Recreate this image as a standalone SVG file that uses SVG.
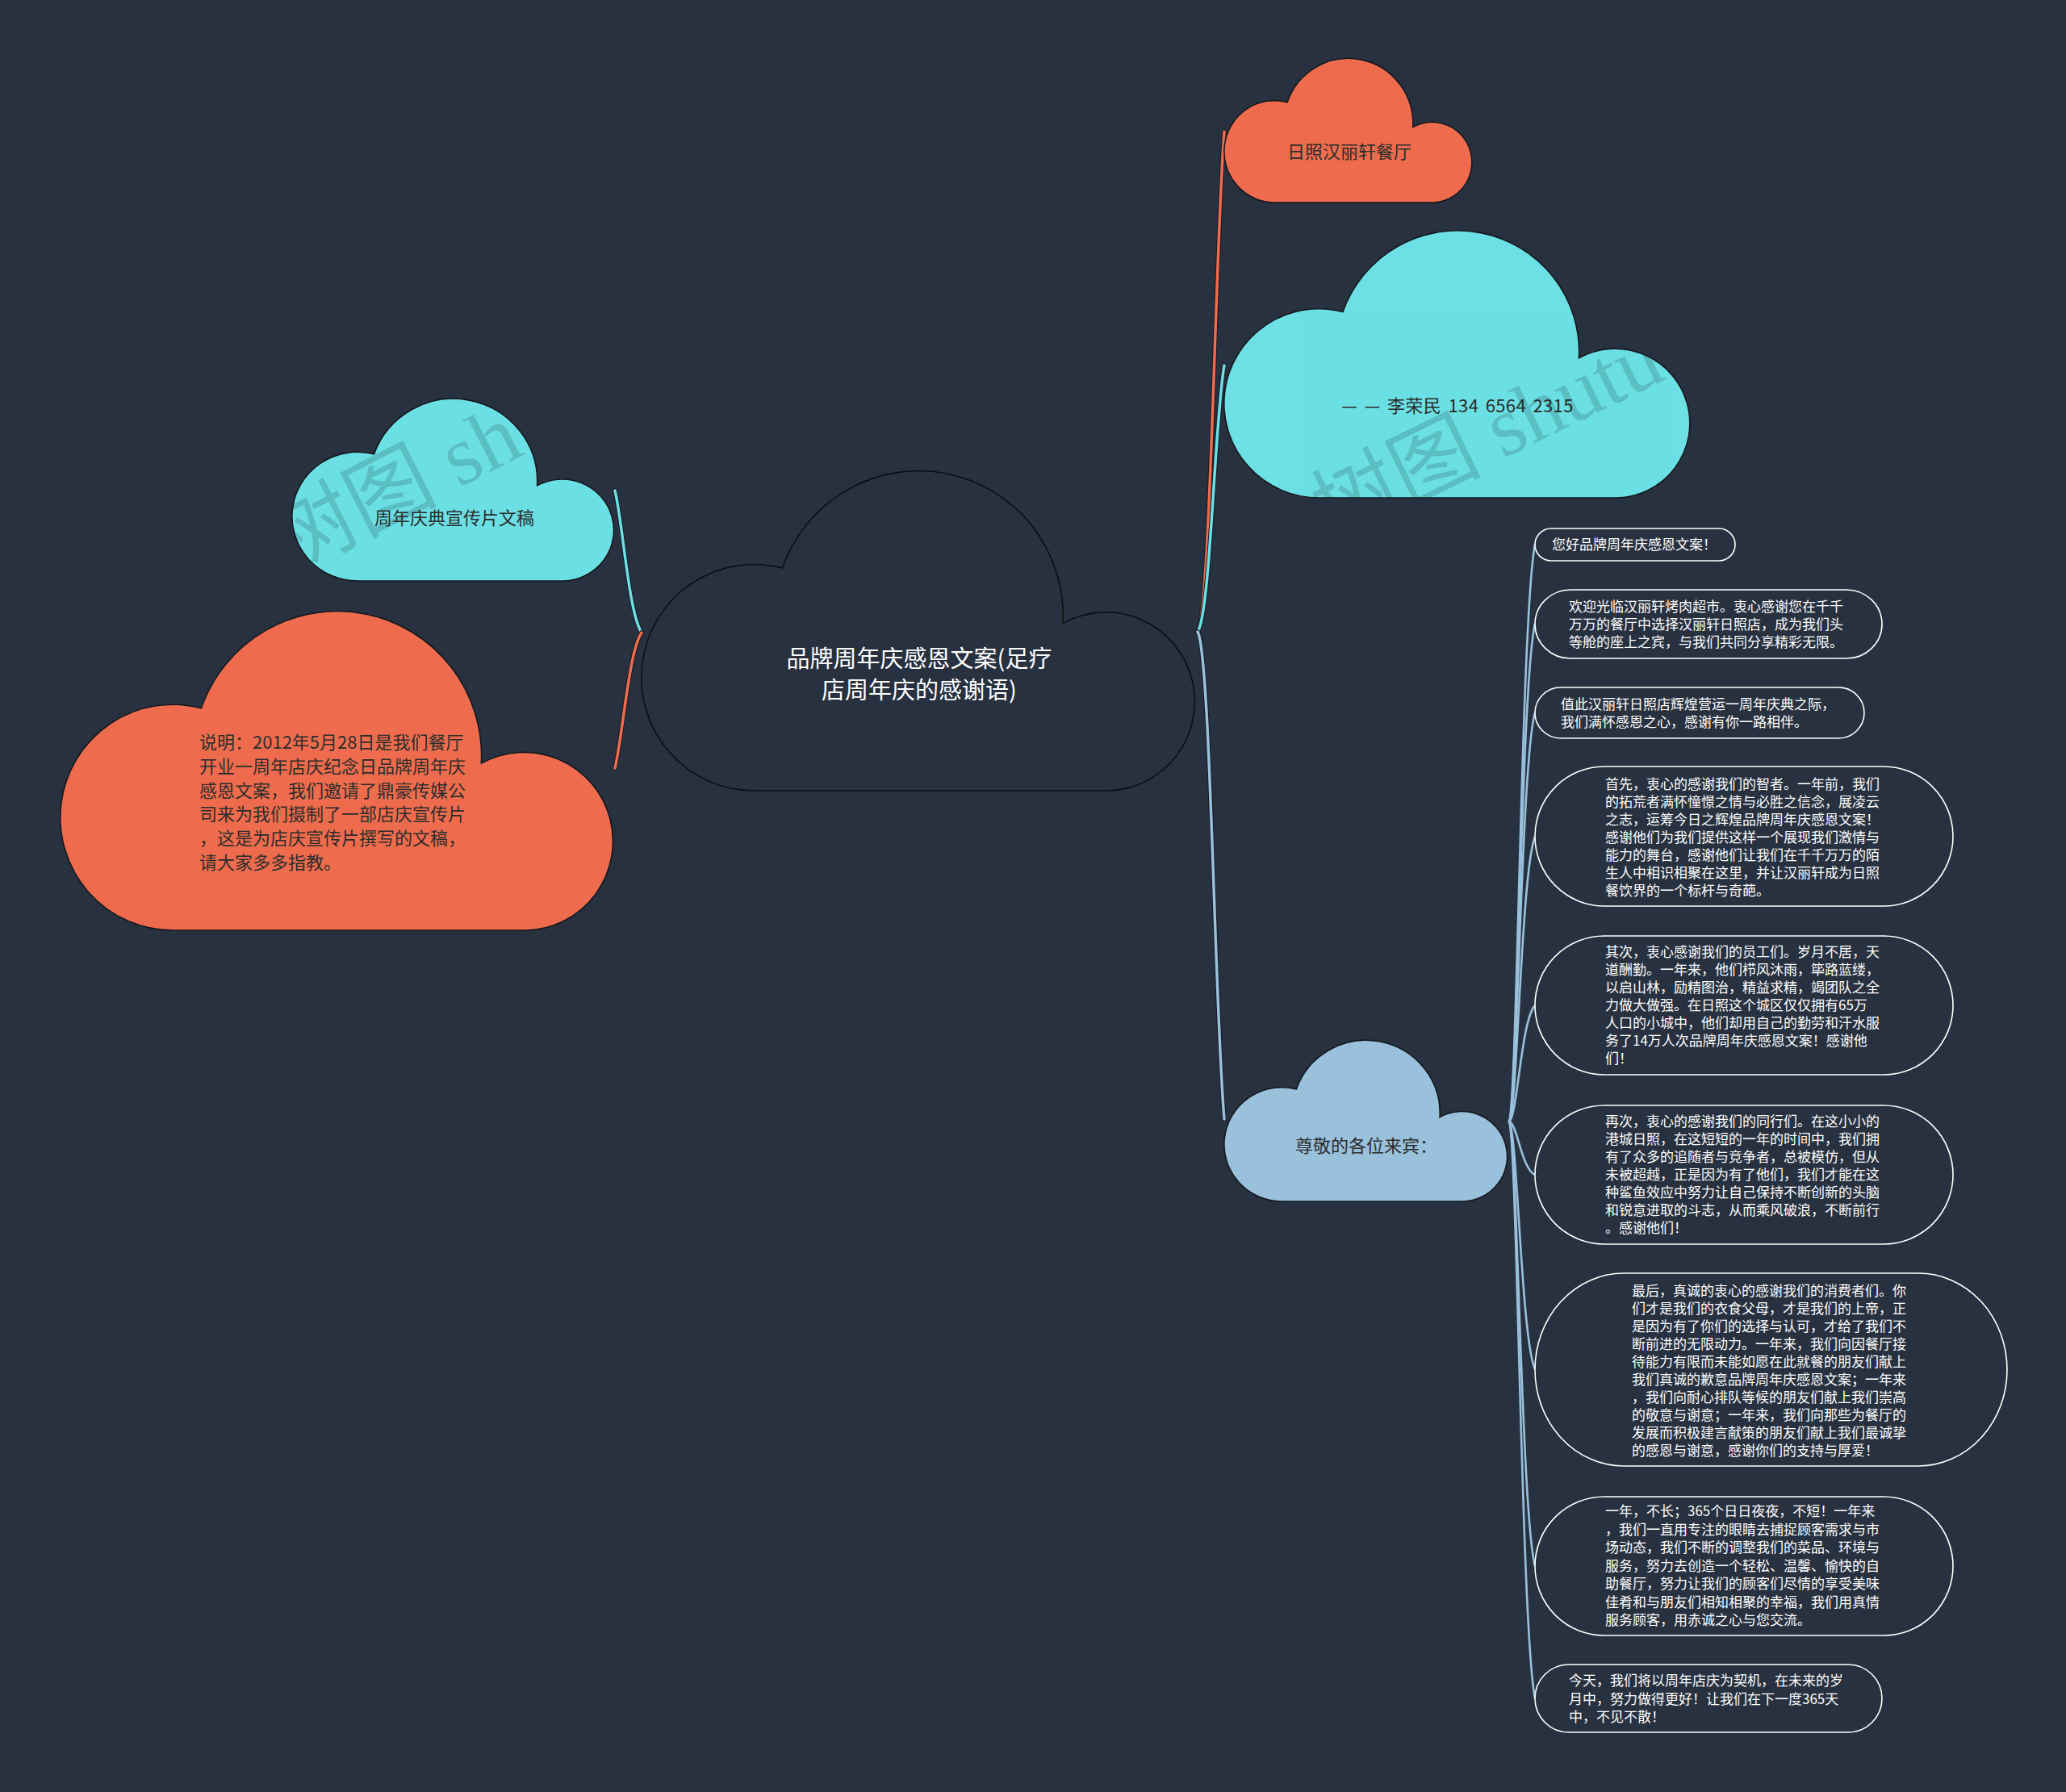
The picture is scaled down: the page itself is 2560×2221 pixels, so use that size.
<svg xmlns="http://www.w3.org/2000/svg" width="2560" height="2221" viewBox="0 0 2560 2221">
<defs>
<style>
.cloud{stroke:#15181e;stroke-width:1.6}
.orange{fill:#ee6c4d}
.cyan{fill:#6ce0e4}
.blue{fill:#99c1dc}
.root{fill:#28313f;stroke:#0c0e12}
.ctext{font-family:"Noto Sans CJK SC","Noto Sans",sans-serif;font-size:22px;fill:#2c2c2c}
.rtext{font-family:"Noto Sans CJK SC","Noto Sans",sans-serif;font-size:29px;fill:#ffffff;text-anchor:middle}
.pill{fill:#28313f;stroke:#ffffff;stroke-width:1.6}
.ptext{font-family:"Noto Sans CJK SC","Noto Sans",sans-serif;font-size:17px;fill:#ffffff}
.under{fill:none;stroke:#161a22;stroke-linecap:round}
.lo{fill:none;stroke:#ee6c4d;stroke-width:3.5;stroke-linecap:round}
.lc{fill:none;stroke:#6ce0e4;stroke-width:3.5;stroke-linecap:round}
.lb{fill:none;stroke:#99c1dc;stroke-width:3.5;stroke-linecap:round}
.ls{fill:none;stroke:#99c1dc;stroke-width:2.6;stroke-linecap:round}
.wm{font-family:"Liberation Serif","Noto Sans CJK SC",serif;font-size:105px;fill:#000000;opacity:0.15}
</style>
<clipPath id="clipA"><path transform="translate(362,495) scale(2.286,2.25)" d="M35.5,100 L147,100 A28,28 0 1 0 132.8,47.5 A45.5,45.5 0 0 0 44.4,30.15 A35.5,35.5 0 1 0 35.5,100 Z"/></clipPath>
<clipPath id="clipB"><path transform="translate(1517,287) scale(3.309,3.3)" d="M35.5,100 L147,100 A28,28 0 1 0 132.8,47.5 A45.5,45.5 0 0 0 44.4,30.15 A35.5,35.5 0 1 0 35.5,100 Z"/></clipPath>
</defs>
<rect x="0" y="0" width="2560" height="2221" fill="#28313f"/>

<g id="connectors">
  <path class="under" stroke-width="5.5" d="M1484,783 C1500,760 1506,300 1517,163"/>
  <path class="lo" d="M1484,783 C1500,760 1506,300 1517,163"/>
  <path class="under" stroke-width="5.5" d="M1484,783 C1500,760 1505,520 1517,453"/>
  <path class="lc" d="M1484,783 C1500,760 1505,520 1517,453"/>
  <path class="under" stroke-width="5.5" d="M1484,783 C1500,810 1505,1250 1517,1387"/>
  <path class="lb" d="M1484,783 C1500,810 1505,1250 1517,1387"/>
  <path class="under" stroke-width="5.5" d="M795,784 C779,760 772,650 762,608"/>
  <path class="lc" d="M795,784 C779,760 772,650 762,608"/>
  <path class="under" stroke-width="5.5" d="M795,784 C779,808 772,910 762,952"/>
  <path class="lo" d="M795,784 C779,808 772,910 762,952"/>
  <g>
    <path class="ls" d="M1870,1390 C1880,1368.6 1885,760.8 1902,675"/>
    <path class="ls" d="M1870,1390 C1880,1371.5 1885,847 1902,773"/>
    <path class="ls" d="M1870,1390 C1880,1374.8 1885,943.8 1902,883"/>
    <path class="ls" d="M1870,1390 C1880,1379.4 1885,1079.4 1902,1037"/>
    <path class="ls" d="M1870,1390 C1880,1385.7 1885,1263.3 1902,1246"/>
    <path class="ls" d="M1870,1390 C1880,1392 1885,1448 1902,1456"/>
    <path class="ls" d="M1870,1390 C1880,1399.2 1885,1660.2 1902,1697"/>
    <path class="ls" d="M1870,1390 C1880,1406.5 1885,1874.9 1902,1941"/>
    <path class="ls" d="M1870,1390 C1880,1411.5 1885,2019.2 1902,2105"/>
  </g>
</g>

<g id="root">
  <path class="cloud root" vector-effect="non-scaling-stroke" transform="translate(795,585) scale(3.931,3.95)" d="M35.5,100 L147,100 A28,28 0 1 0 132.8,47.5 A45.5,45.5 0 0 0 44.4,30.15 A35.5,35.5 0 1 0 35.5,100 Z"/>
  <text class="rtext" x="1139" y="827">品牌周年庆感恩文案(足疗</text>
  <text class="rtext" x="1139" y="866">店周年庆的感谢语)</text>
</g>

<g id="node-rizhao">
  <path class="cloud orange" vector-effect="non-scaling-stroke" transform="translate(1517,73) scale(1.76,1.78)" d="M35.5,100 L147,100 A28,28 0 1 0 132.8,47.5 A45.5,45.5 0 0 0 44.4,30.15 A35.5,35.5 0 1 0 35.5,100 Z"/>
  <text class="ctext" x="1672" y="196" text-anchor="middle">日照汉丽轩餐厅</text>
</g>

<g id="node-lirongmin">
  <path class="cloud cyan" vector-effect="non-scaling-stroke" transform="translate(1517,287) scale(3.309,3.3)" d="M35.5,100 L147,100 A28,28 0 1 0 132.8,47.5 A45.5,45.5 0 0 0 44.4,30.15 A35.5,35.5 0 1 0 35.5,100 Z"/>
  <text class="ctext" x="1806" y="511" text-anchor="middle" letter-spacing="0.4" word-spacing="3">— — 李荣民 134 6564 2315</text>
  <g clip-path="url(#clipB)"><text class="wm" x="1650" y="672" transform="rotate(-26 1650 672)">树图 shutu</text></g>
</g>

<g id="node-zhounian">
  <path class="cloud cyan" vector-effect="non-scaling-stroke" transform="translate(362,495) scale(2.286,2.25)" d="M35.5,100 L147,100 A28,28 0 1 0 132.8,47.5 A45.5,45.5 0 0 0 44.4,30.15 A35.5,35.5 0 1 0 35.5,100 Z"/>
  <g clip-path="url(#clipA)"><text class="wm" x="358" y="712" transform="rotate(-27 358 712)">树图 shutu</text></g>
  <text class="ctext" x="563" y="650" text-anchor="middle">周年庆典宣传片文稿</text>
</g>

<g id="node-shuoming">
  <path class="cloud orange" vector-effect="non-scaling-stroke" transform="translate(75,759) scale(3.926,3.94)" d="M35.5,100 L147,100 A28,28 0 1 0 132.8,47.5 A45.5,45.5 0 0 0 44.4,30.15 A35.5,35.5 0 1 0 35.5,100 Z"/>
  <text class="ctext" x="247" y="928">说明：2012年5月28日是我们餐厅</text>
  <text class="ctext" x="247" y="958">开业一周年店庆纪念日品牌周年庆</text>
  <text class="ctext" x="247" y="988">感恩文案，我们邀请了鼎豪传媒公</text>
  <text class="ctext" x="247" y="1017">司来为我们摄制了一部店庆宣传片</text>
  <text class="ctext" x="247" y="1047">，这是为店庆宣传片撰写的文稿，</text>
  <text class="ctext" x="247" y="1077">请大家多多指教。</text>
</g>

<g id="node-zunjing">
  <path class="cloud blue" vector-effect="non-scaling-stroke" transform="translate(1517,1290) scale(2.011,1.99)" d="M35.5,100 L147,100 A28,28 0 1 0 132.8,47.5 A45.5,45.5 0 0 0 44.4,30.15 A35.5,35.5 0 1 0 35.5,100 Z"/>
  <text class="ctext" x="1605" y="1428">尊敬的各位来宾：</text>
</g>

<g id="leaf-a">
  <rect class="pill" x="1902" y="655" width="248" height="40" rx="20" ry="20"/>
  <text class="ptext" x="1923" y="681">您好品牌周年庆感恩文案！</text>
</g>

<g id="leaf-b">
  <rect class="pill" x="1902" y="731" width="430" height="85" rx="44" ry="42.5"/>
  <text class="ptext" x="1944" y="758">欢迎光临汉丽轩烤肉超市。衷心感谢您在千千</text>
  <text class="ptext" x="1944" y="780">万万的餐厅中选择汉丽轩日照店，成为我们头</text>
  <text class="ptext" x="1944" y="802">等舱的座上之宾，与我们共同分享精彩无限。</text>
</g>

<g id="leaf-c">
  <rect class="pill" x="1902" y="852" width="408" height="63" rx="32" ry="31.5"/>
  <text class="ptext" x="1934" y="879">值此汉丽轩日照店辉煌营运一周年庆典之际，</text>
  <text class="ptext" x="1934" y="901">我们满怀感恩之心，感谢有你一路相伴。</text>
</g>

<g id="leaf-d">
  <rect class="pill" x="1902" y="950" width="518" height="173" rx="86" ry="86.5"/>
  <text class="ptext" x="1989" y="978">首先，衷心的感谢我们的智者。一年前，我们</text>
  <text class="ptext" x="1989" y="1000">的拓荒者满怀憧憬之情与必胜之信念，展凌云</text>
  <text class="ptext" x="1989" y="1022">之志，运筹今日之辉煌品牌周年庆感恩文案！</text>
  <text class="ptext" x="1989" y="1044">感谢他们为我们提供这样一个展现我们激情与</text>
  <text class="ptext" x="1989" y="1066">能力的舞台，感谢他们让我们在千千万万的陌</text>
  <text class="ptext" x="1989" y="1088">生人中相识相聚在这里，并让汉丽轩成为日照</text>
  <text class="ptext" x="1989" y="1110">餐饮界的一个标杆与奇葩。</text>
</g>

<g id="leaf-e">
  <rect class="pill" x="1902" y="1160" width="518" height="172" rx="86" ry="86"/>
  <text class="ptext" x="1989" y="1186">其次，衷心感谢我们的员工们。岁月不居，天</text>
  <text class="ptext" x="1989" y="1208">道酬勤。一年来，他们栉风沐雨，筚路蓝缕，</text>
  <text class="ptext" x="1989" y="1230">以启山林，励精图治，精益求精，竭团队之全</text>
  <text class="ptext" x="1989" y="1252">力做大做强。在日照这个城区仅仅拥有65万</text>
  <text class="ptext" x="1989" y="1274">人口的小城中，他们却用自己的勤劳和汗水服</text>
  <text class="ptext" x="1989" y="1296">务了14万人次品牌周年庆感恩文案！感谢他</text>
  <text class="ptext" x="1989" y="1318">们！</text>
</g>

<g id="leaf-f">
  <rect class="pill" x="1902" y="1370" width="518" height="172" rx="86" ry="86"/>
  <text class="ptext" x="1989" y="1396">再次，衷心的感谢我们的同行们。在这小小的</text>
  <text class="ptext" x="1989" y="1418">港城日照，在这短短的一年的时间中，我们拥</text>
  <text class="ptext" x="1989" y="1440">有了众多的追随者与竞争者，总被模仿，但从</text>
  <text class="ptext" x="1989" y="1462">未被超越，正是因为有了他们，我们才能在这</text>
  <text class="ptext" x="1989" y="1484">种鲨鱼效应中努力让自己保持不断创新的头脑</text>
  <text class="ptext" x="1989" y="1506">和锐意进取的斗志，从而乘风破浪，不断前行</text>
  <text class="ptext" x="1989" y="1528">。感谢他们！</text>
</g>

<g id="leaf-g">
  <rect class="pill" x="1902" y="1578" width="585" height="239" rx="110" ry="119.5"/>
  <text class="ptext" x="2022" y="1606">最后，真诚的衷心的感谢我们的消费者们。你</text>
  <text class="ptext" x="2022" y="1628">们才是我们的衣食父母，才是我们的上帝，正</text>
  <text class="ptext" x="2022" y="1650">是因为有了你们的选择与认可，才给了我们不</text>
  <text class="ptext" x="2022" y="1672">断前进的无限动力。一年来，我们向因餐厅接</text>
  <text class="ptext" x="2022" y="1694">待能力有限而未能如愿在此就餐的朋友们献上</text>
  <text class="ptext" x="2022" y="1716">我们真诚的歉意品牌周年庆感恩文案；一年来</text>
  <text class="ptext" x="2022" y="1738">，我们向耐心排队等候的朋友们献上我们崇高</text>
  <text class="ptext" x="2022" y="1760">的敬意与谢意；一年来，我们向那些为餐厅的</text>
  <text class="ptext" x="2022" y="1782">发展而积极建言献策的朋友们献上我们最诚挚</text>
  <text class="ptext" x="2022" y="1804">的感恩与谢意，感谢你们的支持与厚爱！</text>
</g>

<g id="leaf-h">
  <rect class="pill" x="1902" y="1855" width="518" height="172" rx="86" ry="86"/>
  <text class="ptext" x="1989" y="1879">一年，不长；365个日日夜夜，不短！一年来</text>
  <text class="ptext" x="1989" y="1901.5">，我们一直用专注的眼睛去捕捉顾客需求与市</text>
  <text class="ptext" x="1989" y="1924">场动态，我们不断的调整我们的菜品、环境与</text>
  <text class="ptext" x="1989" y="1946.5">服务，努力去创造一个轻松、温馨、愉快的自</text>
  <text class="ptext" x="1989" y="1969">助餐厅，努力让我们的顾客们尽情的享受美味</text>
  <text class="ptext" x="1989" y="1991.5">佳肴和与朋友们相知相聚的幸福，我们用真情</text>
  <text class="ptext" x="1989" y="2014">服务顾客，用赤诚之心与您交流。</text>
</g>

<g id="leaf-i">
  <rect class="pill" x="1902" y="2063" width="430" height="84" rx="42" ry="42"/>
  <text class="ptext" x="1944" y="2089">今天，我们将以周年店庆为契机，在未来的岁</text>
  <text class="ptext" x="1944" y="2112">月中，努力做得更好！让我们在下一度365天</text>
  <text class="ptext" x="1944" y="2134">中，不见不散！</text>
</g>
</svg>
